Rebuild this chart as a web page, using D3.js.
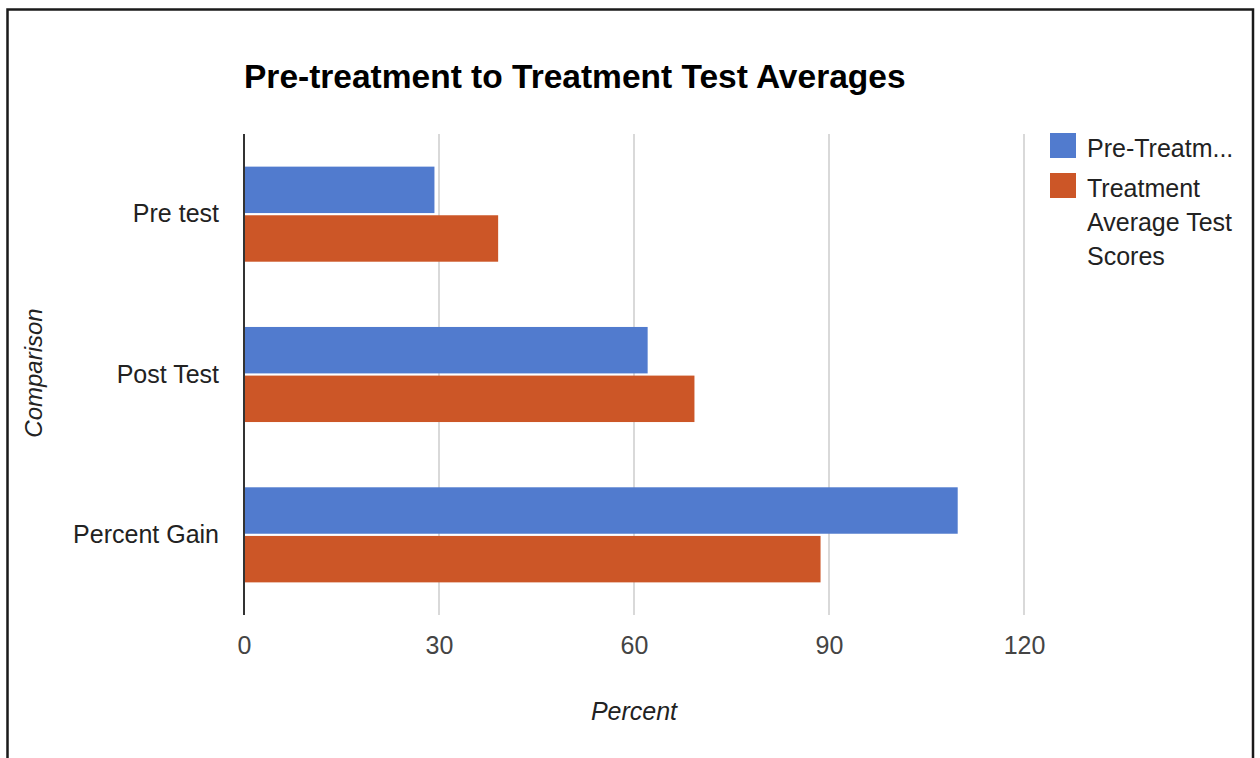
<!DOCTYPE html>
<html>
<head>
<meta charset="utf-8">
<script src="https://cdn.jsdelivr.net/npm/d3@7"></script>
<style>
  html, body { margin: 0; padding: 0; background: #fff; }
  svg { display: block; font-family: "Liberation Sans", Arial, sans-serif; }
</style>
</head>
<body>
<svg id="chart" width="1260" height="758"></svg>
<script>
// Chart data
const categories = ["Pre test", "Post Test", "Percent Gain"];
const seriesNames = ["Pre-Treatm...", "Treatment Average Test Scores"];
const preTreatment = [29.3, 62.1, 109.8];
const treatment = [39.1, 69.3, 88.7];
const xTicks = [0, 30, 60, 90, 120];
const legendLines = [["Pre-Treatm..."], ["Treatment", "Average Test", "Scores"]];

const colors = ["#517bce", "#cc5627"];
const seriesValues = [preTreatment, treatment];
const FONT = "'Liberation Sans', Arial, sans-serif";

const svg = d3.select("#chart");

// Outer frame
svg.append("rect")
  .attr("x", 7.5).attr("y", 9.5)
  .attr("width", 1245.5).attr("height", 780)
  .attr("fill", "#fff")
  .attr("stroke", "#1a1a1a")
  .attr("stroke-width", 2.5);

const plot = { left: 244, right: 1024, top: 134, bottom: 615 };

const x = d3.scaleLinear().domain([0, 120]).range([plot.left, plot.right]);
const y = d3.scaleBand().domain(categories)
  .range([plot.top, plot.bottom])
  .paddingInner(0.407).paddingOuter(0.2035);
const ySub = d3.scaleBand().domain(d3.range(seriesNames.length))
  .range([0, y.bandwidth()]).paddingInner(0.045);

// Title
svg.append("text")
  .attr("x", plot.left).attr("y", 88)
  .attr("font-family", FONT)
  .attr("font-size", 33.5).attr("font-weight", "bold")
  .attr("fill", "#000")
  .text("Pre-treatment to Treatment Test Averages");

// Vertical gridlines and tick labels
const xAxis = d3.axisBottom(x).tickValues(xTicks).tickSize(0).tickPadding(0);
const gx = svg.append("g").attr("transform", `translate(0,${plot.bottom})`).call(xAxis);
gx.select(".domain").remove();
gx.attr("font-family", FONT);
gx.selectAll(".tick text")
  .attr("y", 39).attr("dy", null)
  .attr("font-size", 25).attr("fill", "#444");

svg.append("g").selectAll("line")
  .data(xTicks.filter(d => d !== 0))
  .join("line")
  .attr("x1", d => x(d)).attr("x2", d => x(d))
  .attr("y1", plot.top).attr("y2", plot.bottom)
  .attr("stroke", "#d9d9d9").attr("stroke-width", 2);

// Bars
const groups = svg.append("g").selectAll("g")
  .data(categories)
  .join("g")
  .attr("transform", d => `translate(0,${y(d)})`);

groups.selectAll("rect")
  .data((d, i) => seriesValues.map((vals, s) => ({ s, v: vals[i] })))
  .join("rect")
  .attr("x", x(0))
  .attr("y", d => ySub(d.s))
  .attr("width", d => x(d.v) - x(0))
  .attr("height", ySub.bandwidth())
  .attr("fill", d => colors[d.s]);

// Baseline axis
svg.append("line")
  .attr("x1", x(0)).attr("x2", x(0))
  .attr("y1", plot.top).attr("y2", plot.bottom)
  .attr("stroke", "#333").attr("stroke-width", 2);

// Category labels
const yAxis = d3.axisLeft(y).tickSize(0).tickPadding(25);
const gy = svg.append("g").attr("transform", `translate(${plot.left},0)`).call(yAxis);
gy.select(".domain").remove();
gy.attr("font-family", FONT);
gy.selectAll(".tick text")
  .attr("font-size", 25).attr("fill", "#222");

// Axis titles
svg.append("text")
  .attr("transform", `translate(42,373) rotate(-90)`)
  .attr("text-anchor", "middle")
  .attr("font-family", FONT)
  .attr("font-size", 24).attr("font-style", "italic").attr("fill", "#222")
  .text("Comparison");

svg.append("text")
  .attr("x", (plot.left + plot.right) / 2).attr("y", 720)
  .attr("text-anchor", "middle")
  .attr("font-family", FONT)
  .attr("font-size", 25).attr("font-style", "italic").attr("fill", "#222")
  .text("Percent");

// Legend
const legendTop = [133, 173];
const legend = svg.append("g").attr("font-family", FONT);
legendLines.forEach((lines, i) => {
  legend.append("rect")
    .attr("x", 1050).attr("y", legendTop[i])
    .attr("width", 26).attr("height", 25)
    .attr("fill", colors[i]);
  const t = legend.append("text")
    .attr("x", 1087).attr("y", legendTop[i] + 24)
    .attr("font-size", 25).attr("fill", "#222");
  lines.forEach((ln, j) => {
    t.append("tspan").attr("x", 1087).attr("dy", j === 0 ? 0 : 34).text(ln);
  });
});
</script>
</body>
</html>
